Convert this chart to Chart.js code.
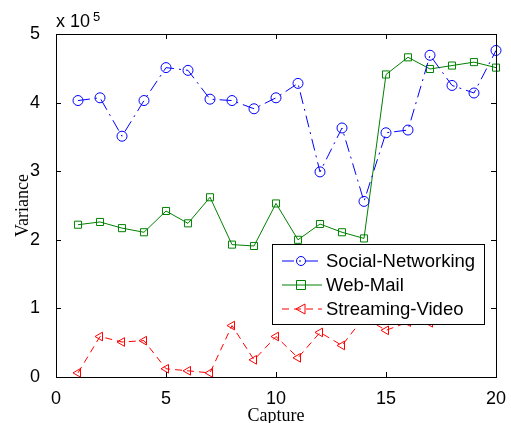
<!DOCTYPE html>
<html>
<head>
<meta charset="utf-8">
<script src="https://cdn.jsdelivr.net/npm/chart.js@4"></script>
<style>
  body { margin: 0; background: #fff; }
</style>
</head>
<body>
<canvas id="varianceChart" width="511" height="423"></canvas>
<script>
// data (units of 1e5)
const captures = [1, 2, 3, 4, 5, 6, 7, 8, 9, 10, 11, 12, 13, 14, 15, 16, 17, 18, 19, 20];
const socialNetworking = [4.03, 4.07, 3.51, 4.03, 4.51, 4.47, 4.05, 4.03, 3.91, 4.07, 4.28, 2.99, 3.63, 2.56, 3.56, 3.60, 4.69, 4.25, 4.14, 4.76];
const webMail = [2.22, 2.26, 2.17, 2.11, 2.42, 2.24, 2.62, 1.93, 1.91, 2.53, 2.00, 2.23, 2.11, 2.02, 4.41, 4.66, 4.49, 4.54, 4.59, 4.51];
const streamingVideo = [0.06, 0.59, 0.51, 0.53, 0.12, 0.09, 0.06, 0.75, 0.25, 0.59, 0.28, 0.65, 0.46, 0.87, 0.68, 0.80, 0.79, 1.00, 1.10, null];
const xTicks = [0, 5, 10, 15, 20];
const yTicks = [0, 1, 2, 3, 4, 5];

const SCALE = 1e5;
const toPoints = arr => arr.map((v, i) => ({ x: captures[i], y: v === null ? null : v * SCALE }));

const BLUE = '#0000ff', GREEN = '#008000', RED = '#ff0000';
const sansFont = '"Liberation Sans", Arial, Helvetica, sans-serif';
const serifFont = '"Liberation Serif", "Times New Roman", serif';
const BLUE_DASH = [12, 5, 2, 5], RED_DASH = [7, 5];

const legendItems = [
  { text: 'Social-Networking', color: BLUE, dash: BLUE_DASH, marker: 'circle' },
  { text: 'Web-Mail', color: GREEN, dash: [], marker: 'rect' },
  { text: 'Streaming-Video', color: RED, dash: RED_DASH, marker: 'triangleLeft' }
];

function drawMarker(ctx, kind, x, y, color) {
  ctx.save();
  ctx.strokeStyle = color;
  ctx.lineWidth = 1;
  ctx.setLineDash([]);
  ctx.beginPath();
  if (kind === 'circle') {
    ctx.arc(x, y, 4.5, 0, Math.PI * 2);
  } else if (kind === 'rect') {
    ctx.rect(x - 4.5, y - 4.5, 9, 9);
  } else {
    ctx.moveTo(x - 5, y);
    ctx.lineTo(x + 4, y - 5);
    ctx.lineTo(x + 4, y + 5);
    ctx.closePath();
  }
  ctx.stroke();
  ctx.restore();
}

// box, inward ticks, axis titles, exponent and legend, MATLAB style
const matlabFrame = {
  id: 'matlabFrame',
  afterDraw(chart) {
    const { ctx, chartArea: a, scales } = chart;
    ctx.save();
    ctx.strokeStyle = '#000';
    ctx.lineWidth = 1;
    ctx.strokeRect(Math.round(a.left) + 0.5, Math.round(a.top) + 0.5, Math.round(a.right - a.left), Math.round(a.bottom - a.top));

    ctx.beginPath();
    xTicks.forEach(t => {
      const px = Math.round(scales.x.getPixelForValue(t)) + 0.5;
      ctx.moveTo(px, a.bottom); ctx.lineTo(px, a.bottom - 5);
      ctx.moveTo(px, a.top); ctx.lineTo(px, a.top + 5);
    });
    yTicks.forEach(t => {
      const py = Math.round(scales.y.getPixelForValue(t * SCALE)) + 0.5;
      ctx.moveTo(a.left, py); ctx.lineTo(a.left + 5, py);
      ctx.moveTo(a.right, py); ctx.lineTo(a.right - 5, py);
    });
    ctx.stroke();

    // axis titles
    ctx.fillStyle = '#000';
    ctx.font = '18px ' + serifFont;
    ctx.textAlign = 'center';
    ctx.textBaseline = 'alphabetic';
    ctx.fillText('Capture', (a.left + a.right) / 2, 421);
    ctx.save();
    ctx.translate(28, (a.top + a.bottom) / 2);
    ctx.rotate(-Math.PI / 2);
    ctx.fillText('Variance', 0, 0);
    ctx.restore();

    // exponent label
    ctx.textAlign = 'left';
    ctx.font = '18px ' + sansFont;
    ctx.fillText('x 10', 56, 27);
    ctx.font = '13px ' + sansFont;
    ctx.fillText('5', 93, 21);

    // legend
    const lx = 272, ly = 244, lw = 212, lh = 80;
    ctx.fillStyle = '#fff';
    ctx.fillRect(lx, ly, lw, lh);
    ctx.strokeRect(lx + 0.5, ly + 0.5, lw, lh);
    legendItems.forEach((item, i) => {
      const y = 261 + i * 24;
      ctx.strokeStyle = item.color;
      ctx.setLineDash(item.dash);
      ctx.beginPath();
      ctx.moveTo(282, y); ctx.lineTo(322, y);
      ctx.stroke();
      ctx.setLineDash([]);
      drawMarker(ctx, item.marker, 301, y, item.color);
      ctx.fillStyle = '#000';
      ctx.font = '18.5px ' + sansFont;
      ctx.textBaseline = 'middle';
      ctx.fillText(item.text, 326, y + 1);
    });
    ctx.restore();
  }
};

function seriesDataset(label, values, color, dash, style, rotation) {
  return {
    label: label,
    data: toPoints(values),
    borderColor: color,
    backgroundColor: 'rgba(0,0,0,0)',
    borderWidth: 1,
    borderDash: dash,
    pointStyle: style,
    pointRotation: rotation,
    pointRadius: 5,
    pointBorderWidth: 1,
    pointBorderColor: color,
    pointBackgroundColor: 'rgba(0,0,0,0)',
    spanGaps: false,
    tension: 0,
    clip: false
  };
}

new Chart(document.getElementById('varianceChart'), {
  type: 'line',
  data: {
    datasets: [
      seriesDataset('Social-Networking', socialNetworking, BLUE, BLUE_DASH, 'circle', 0),
      seriesDataset('Web-Mail', webMail, GREEN, [], 'rect', 0),
      seriesDataset('Streaming-Video', streamingVideo, RED, RED_DASH, 'triangle', -90)
    ]
  },
  options: {
    responsive: false,
    animation: false,
    devicePixelRatio: 1,
    layout: { padding: { top: 34, right: 15, left: 0, bottom: 0 } },
    plugins: { legend: { display: false }, tooltip: { enabled: false } },
    scales: {
      x: {
        type: 'linear', min: 0, max: 20,
        afterBuildTicks: s => { s.ticks = xTicks.map(v => ({ value: v })); },
        afterFit: s => { s.height = 46; },
        grid: { display: false },
        border: { display: false },
        ticks: { color: '#000', padding: 3, font: { family: sansFont, size: 18 } }
      },
      y: {
        type: 'linear', min: 0, max: 5 * SCALE,
        afterBuildTicks: s => { s.ticks = yTicks.map(v => ({ value: v * SCALE })); },
        afterFit: s => { s.width = 56; },
        grid: { display: false },
        border: { display: false },
        ticks: { color: '#000', padding: 8, font: { family: sansFont, size: 18 }, callback: v => String(v / SCALE) }
      }
    }
  },
  plugins: [matlabFrame]
});
</script>
</body>
</html>
